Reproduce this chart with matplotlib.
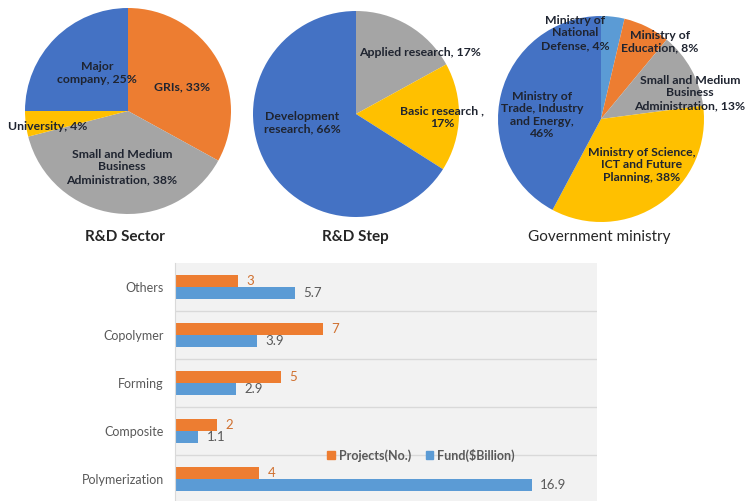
import matplotlib
matplotlib.use('Agg')
import matplotlib.pyplot as plt
from matplotlib.patches import Patch

W, H = 747, 501

# --- data ---
sector_labels = ['GRIs, 33%', 'Small and Medium\nBusiness\nAdministration, 38%',
                 'University, 4%', 'Major\ncompany, 25%']
sector_values = [33, 38, 4, 25]

step_labels = ['Applied research, 17%', 'Basic research ,\n17%',
               'Development\nresearch, 66%']
step_values = [17, 17, 66]

ministry_labels = ['Ministry of\nNational\nDefense, 4%', 'Ministry of\nEducation, 8%',
                   'Small and Medium\nBusiness\nAdministration, 13%',
                   'Ministry of Science,\nICT and Future\nPlanning, 38%',
                   'Ministry of\nTrade, Industry\nand Energy,\n46%']
ministry_values = [4, 8, 13, 38, 46]

categories = ['Others', 'Copolymer', 'Forming', 'Composite', 'Polymerization']
projects = [3, 7, 5, 2, 4]
fund = [5.7, 3.9, 2.9, 1.1, 16.9]

# --- style ---
BLUE, ORANGE, GRAY, YELLOW, LBLUE = '#4472C4', '#ED7D31', '#A5A5A5', '#FFC000', '#5B9BD5'
FONT = ['Lato', 'DejaVu Sans']
plt.rcParams['font.family'] = FONT

fig = plt.figure(figsize=(W / 100, H / 100), dpi=100)


def pie_ax(cx, cy, r):
    ax = fig.add_axes([(cx - r) / W, 1 - (cy + r) / H, 2 * r / W, 2 * r / H])
    ax.set_xlim(-1, 1)
    ax.set_ylim(-1, 1)
    ax.axis('off')
    return ax


def draw_pie(cx, cy, r, values, colors, labels, label_px, title, title_px, tw='bold'):
    ax = pie_ax(cx, cy, r)
    ax.pie(values, colors=colors, startangle=90, counterclock=False, radius=1,
           wedgeprops=dict(linewidth=0))
    ax.set_xlim(-1, 1)
    ax.set_ylim(-1, 1)
    for lab, (px, py) in zip(labels, label_px):
        ax.text((px - cx) / r, (cy - py) / r, lab, ha='center', va='center',
                fontsize=8.8, fontweight='bold', color='#1F2430',
                linespacing=1.15, clip_on=False)
    fig.text(title_px[0] / W, 1 - title_px[1] / H, title, ha='center', va='center',
             fontsize=11, fontweight=tw, color='#262626')


draw_pie(128, 111, 103, sector_values, [ORANGE, GRAY, YELLOW, BLUE], sector_labels,
         [(182, 87), (122, 167), (48, 127), (97, 73)], 'R&D Sector', (125, 237))
draw_pie(356, 114, 103, step_values, [GRAY, YELLOW, BLUE], step_labels,
         [(420, 53), (442, 117), (302, 123)], 'R&D Step', (355, 237))
draw_pie(601, 119, 103, ministry_values, [LBLUE, ORANGE, GRAY, YELLOW, BLUE], ministry_labels,
         [(575, 33), (660, 42), (690, 93), (642, 165), (542, 115)],
         'Government ministry', (599, 237), tw='normal')

# --- bar chart ---
ax = fig.add_axes([175 / W, 0, 422 / W, 238 / H])
ax.set_facecolor('#F2F2F2')
ypos = [len(categories) - 1 - i for i in range(len(categories))]
bh = 0.245
ax.barh([y + bh / 2 for y in ypos], projects, height=bh, color=ORANGE, label='Projects(No.)')
ax.barh([y - bh / 2 for y in ypos], fund, height=bh, color=LBLUE, label='Fund($Billion)')
for y, p, f in zip(ypos, projects, fund):
    ax.text(p + 0.4, y + bh / 2, str(p), va='center', ha='left', fontsize=9.5, color='#D0702F')
    ax.text(f + 0.4, y - bh / 2, str(f), va='center', ha='left', fontsize=9.5, color='#595959')
for g in [0.5, 1.5, 2.5, 3.5]:
    ax.axhline(g, color='#D9D9D9', lw=1, zorder=0)
ax.set_xlim(0, 20)
ax.set_ylim(-0.5 + 2 / 48, 4.5)
ax.set_yticks(ypos)
ax.set_yticklabels(categories, fontsize=9, color='#595959')
ax.tick_params(axis='y', length=0, pad=8)
ax.set_xticks([])
for s in ['top', 'right', 'bottom']:
    ax.spines[s].set_visible(False)
ax.spines['left'].set_color('#D9D9D9')
handles = [Patch(color=ORANGE, label='Projects(No.)'), Patch(color=LBLUE, label='Fund($Billion)')]
leg = ax.legend(handles=handles, loc='center', bbox_to_anchor=((421 - 175) / 422, (501 - 455) / 238),
                ncol=2, frameon=False, fontsize=9, handlelength=0.6, handleheight=0.6,
                handletextpad=0.3, columnspacing=1.2)
for t in leg.get_texts():
    t.set_color('#595959')
    t.set_fontweight('bold')

fig.savefig('out.png', dpi=100)
